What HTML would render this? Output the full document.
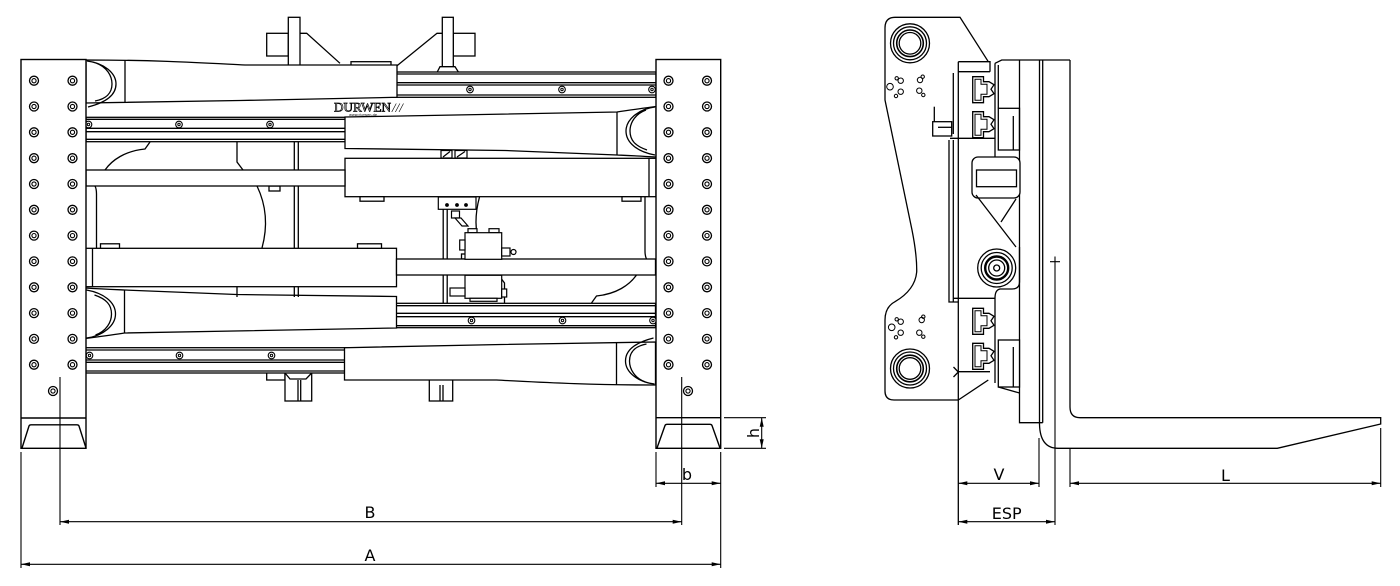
<!DOCTYPE html>
<html><head><meta charset="utf-8"><title>Drawing</title>
<style>html,body{margin:0;padding:0;background:#fff}svg{display:block}text{font-family:"DejaVu Sans","Liberation Sans",sans-serif}</style></head>
<body>
<svg width="1400" height="586" viewBox="0 0 1400 586">
<defs>
 <g id="ph"><circle r="4.5" fill="#fff" stroke="#000" stroke-width="1.3"/><circle r="2.1" fill="none" stroke="#000" stroke-width="1.1"/></g>
 <g id="col">
  <use href="#ph" y="80.7"/><use href="#ph" y="106.5"/><use href="#ph" y="132.3"/><use href="#ph" y="158.2"/>
  <use href="#ph" y="184"/><use href="#ph" y="209.8"/><use href="#ph" y="235.6"/><use href="#ph" y="261.4"/>
  <use href="#ph" y="287.3"/><use href="#ph" y="313.1"/><use href="#ph" y="338.9"/><use href="#ph" y="364.7"/>
 </g>
 <g id="rh"><circle r="3.3" fill="#fff" stroke="#000" stroke-width="1.1"/><circle r="1.2" fill="none" stroke="#000" stroke-width="1"/></g>
 <g id="rails" stroke="#000" stroke-width="1.3" fill="none">
  <rect x="86" y="72" width="570" height="25.3" fill="#fff"/>
  <path d="M86,74H656M86,82.7H656M86,85H656M86,95H656"/>
  <use href="#rh" x="470" y="89.5"/><use href="#rh" x="562" y="89.5"/><use href="#rh" x="652" y="89.5"/>
  <rect x="86" y="117.3" width="570" height="24.4" fill="#fff"/>
  <path d="M86,119.3H656M86,128.3H656M86,131.7H656M86,139.3H656"/>
  <use href="#rh" x="88.5" y="124.5"/><use href="#rh" x="179" y="124.5"/><use href="#rh" x="270" y="124.5"/>
 </g>
 <g id="arms" stroke="#000" stroke-width="1.3" fill="#fff">
  <path fill="none" d="M237,142V162L243,170"/>
  <path fill="none" d="M294.3,142V248M298.3,142V248"/>
  <path fill="none" d="M105,170C112,160 125,151 145,149L150,142"/>
  <path fill="none" d="M95,186Q96.5,189 96.5,194V248"/>
  <path fill="none" d="M257,186Q271,215 262,248"/>
  <rect x="269" y="186" width="11" height="5"/>
  <path d="M86,60C160,60 205,63 245,65H397V97.3L240,100.5L86,103Z"/>
  <path fill="none" d="M125,60.5V102.5M87,61C104,63 116,73 116,84C116,96 104,103 88,107M96,63C107,67 112,76 112,84C112,93 106,99 95,101"/>
  <path d="M345,117L617,112C630,110 645,108 656,106.5V157C640,156 628,155.5 617,155L505,150.5L345,148.5Z"/>
  <path fill="none" d="M617,112V155M655,107C638,109 626,120 626,131C626,143 638,152 655,155M646,110C635,114 630,123 630,131C630,140 635,146 647,150"/>
  <rect x="345" y="158.3" width="311" height="38.4"/>
  <path fill="none" d="M649,158.3V196.7"/>
  <rect x="360" y="196.7" width="24" height="4.5"/>
  <rect x="622" y="196.7" width="19" height="4.5"/>
  <rect x="86" y="170" width="259" height="16"/>
 </g>
</defs>

<!-- hooks & lugs (behind) -->
<g stroke="#000" stroke-width="1.3" fill="#fff">
 <rect x="266.7" y="33.3" width="21.6" height="22.7"/>
 <rect x="288.3" y="17.3" width="11.7" height="50"/>
 <path fill="none" d="M300,33.3H306.7L340,63.3"/>
 <rect x="351" y="61.7" width="40" height="5"/>
 <rect x="453.3" y="33.3" width="21.7" height="22.7"/>
 <rect x="442.3" y="17.3" width="11" height="49.4"/>
 <path d="M436.7,73L440,66.7H455L459,73Z"/>
 <path fill="none" d="M442.3,33.3H437L396.7,66"/>
 <rect x="266.7" y="368" width="18.3" height="12"/>
 <rect x="285" y="368" width="26.7" height="33"/>
 <path fill="none" d="M298,380V401M300.7,380V401M285,373L290,379H306L311.7,373"/>
 <rect x="429.3" y="376" width="23.4" height="25"/>
 <path fill="none" d="M440,385V401M443,385V401"/>
</g>

<use href="#rails"/>
<use href="#rails" transform="rotate(180 370.75 222.5)"/>
<use href="#arms"/>
<use href="#arms" transform="rotate(180 370.75 222.5)"/>

<g stroke="#000" stroke-width="1.3" fill="none">
 <path d="M294.3,286.7V297M298.3,286.7V297M237,287V297"/>
</g>

<!-- logo -->
<text x="334" y="111.5" font-size="12.5" fill="#fff" stroke="#000" stroke-width="0.7" textLength="57" lengthAdjust="spacingAndGlyphs" style="font-family:'Liberation Serif',serif">DURWEN</text>
<text x="392" y="112" font-size="13" font-style="italic" fill="#000" style="font-family:'Liberation Serif',serif">///</text>
<text x="349" y="116" font-size="3.5" fill="#000">www.durwen.de</text>

<!-- valve -->
<g stroke="#000" stroke-width="1.2" fill="#fff">
 <rect x="441" y="150.5" width="11" height="7.5"/>
 <rect x="455" y="150.5" width="12" height="7.5"/>
 <path fill="none" d="M443,157L450,151.5M457,157L465,151.5"/>
 <rect x="438.3" y="197" width="37.7" height="12.3"/>
 <circle cx="447" cy="205" r="1.3" fill="#000"/><circle cx="457" cy="205" r="1.3" fill="#000"/><circle cx="466" cy="205" r="1.3" fill="#000"/>
 <rect x="451.5" y="211" width="8" height="7"/>
 <path d="M455,218L462,226H468L461,218Z"/>
 <rect x="468" y="228.7" width="9" height="4"/>
 <rect x="489" y="228.7" width="10" height="4"/>
 <rect x="465" y="232.7" width="36.7" height="26.6"/>
 <rect x="459.7" y="240" width="5.3" height="10"/>
 <rect x="501.7" y="248" width="8.3" height="8"/>
 <circle cx="513.5" cy="252" r="2.5"/>
 <rect x="465" y="275.3" width="36.7" height="23"/>
 <rect x="450" y="288" width="15" height="8"/>
 <rect x="501.7" y="289" width="5" height="8"/>
 <rect x="470" y="298.3" width="27" height="3"/>
</g>

<!-- plates -->
<g stroke="#000" stroke-width="1.4" fill="#fff">
 <rect x="21" y="59.5" width="65" height="388.8"/>
 <path fill="none" d="M21,418H86M22,448L29,426Q29.5,424.8 31,424.8H77Q78.5,424.8 79,426L86,448"/>
 <rect x="656" y="59.5" width="64.7" height="388.8"/>
 <path fill="none" d="M656,417.7H720.7M657,448L665,425.5Q665.5,424.3 667,424.3H710Q711.5,424.3 712,425.5L720,448"/>
</g>
<use href="#col" x="34"/><use href="#col" x="72.5"/>
<use href="#col" x="668.5"/><use href="#col" x="707"/>
<use href="#ph" x="53" y="391"/><use href="#ph" x="688" y="391"/>

<!-- dimensions left -->
<g stroke="#000" stroke-width="1.1" fill="none">
 <path d="M60,377V525M681.7,377V525M21,452V568M720.7,452V568M656,452V487M60,521.7H681.7M21,564.3H720.7M656,483.3H720.7M724,417.7H766M724,448.3H766M761.7,418V448.3"/>
</g>
<g fill="#000" stroke="none">
 <polygon points="60,521.7 69,519.7 69,523.7"/><polygon points="681.7,521.7 672.7,519.7 672.7,523.7"/>
 <polygon points="21,564.3 30,562.3 30,566.3"/><polygon points="720.7,564.3 711.7,562.3 711.7,566.3"/>
 <polygon points="656,483.3 665,481.3 665,485.3"/><polygon points="720.7,483.3 711.7,481.3 711.7,485.3"/>
 <polygon points="761.7,417.7 759.7,426.7 763.7,426.7"/><polygon points="761.7,448.3 759.7,439.3 763.7,439.3"/>
 <polygon points="958.3,483.3 967.3,481.3 967.3,485.3"/><polygon points="1039,483.3 1030,481.3 1030,485.3"/>
 <polygon points="958.3,521.7 967.3,519.7 967.3,523.7"/><polygon points="1055,521.7 1046,519.7 1046,523.7"/>
 <polygon points="1070,483.3 1079,481.3 1079,485.3"/><polygon points="1380.7,483.3 1371.7,481.3 1371.7,485.3"/>
</g>
<g fill="#000" font-size="16" text-anchor="middle">
 <text x="370" y="518">B</text>
 <text x="370" y="561">A</text>
 <text x="687" y="480">b</text>
 <text transform="translate(759,433) rotate(-90)">h</text>
 <text x="999" y="480">V</text>
 <text x="1006.7" y="519">ESP</text>
 <text x="1225.5" y="481">L</text>
</g>

<!-- side view -->
<g stroke="#000" stroke-width="1.3" fill="none">
 <path fill="#fff" stroke="none" d="M895,17.3H960L988.3,61.7V380L958.3,400H894Q885,400 885,391V320Q885,307 895,301.7Q915,290 916.7,272Q917,255 912,230L885,100V28Q885,17.3 895,17.3Z"/>
 <path d="M988.3,61.7L960,17.3H895Q885,17.3 885,28V100L912,230Q917,255 916.7,272Q915,290 895,301.7Q885,307 885,320V391Q885,400 894,400H958.3L988.3,380"/>
 <circle cx="910" cy="43.3" r="19.5"/><circle cx="910" cy="43.3" r="16.5"/><circle cx="910" cy="43.3" r="13.3" stroke-width="1.6"/><circle cx="910" cy="43.3" r="10.8"/>
 <circle cx="910" cy="368.5" r="19.5"/><circle cx="910" cy="368.5" r="16.5"/><circle cx="910" cy="368.5" r="13.3" stroke-width="1.6"/><circle cx="910" cy="368.5" r="10.8"/>
 <g stroke-width="1">
  <circle cx="890" cy="86.7" r="3.3"/><circle cx="896.7" cy="78.3" r="1.7"/><circle cx="900.7" cy="80.7" r="2.7"/><circle cx="900.7" cy="91.7" r="2.7"/><circle cx="896" cy="96" r="1.7"/>
  <circle cx="920" cy="80" r="2.7"/><circle cx="922.7" cy="76.7" r="1.7"/><circle cx="919.3" cy="90.7" r="2.7"/><circle cx="923.3" cy="95" r="1.7"/>
  <circle cx="891.7" cy="327.3" r="3.3"/><circle cx="896.7" cy="319.3" r="1.7"/><circle cx="900.7" cy="321.7" r="2.7"/><circle cx="900.7" cy="332.7" r="2.7"/><circle cx="896" cy="337.3" r="1.7"/>
  <circle cx="921.7" cy="320" r="2.7"/><circle cx="923.3" cy="316.7" r="1.7"/><circle cx="919.3" cy="332.7" r="2.7"/><circle cx="923.3" cy="336.7" r="1.7"/>
 </g>
 <path d="M934.3,106.7V121.7"/>
 <rect x="932.7" y="121.7" width="19" height="14.3" fill="#fff"/>
 <path d="M938,127.3H951.7"/>
 <path d="M958.3,61.7V525"/>
 <path d="M958.3,61.7H990V71.7M958.3,71.7H990"/>
 <path d="M953.3,73V134M950,138.3H995"/>
 <path d="M949,140V302H958.3M953.3,140V302"/>
 <path d="M953.3,298.3H995"/>
 <path d="M958.3,371.7H990M953.5,367L958.3,372L953.5,377"/>
 <path d="M995,63.3L1001.7,60H1070"/>
 <path d="M995,63.3V157M995,298V383"/>
 <path d="M998.3,65V108.3"/>
 <rect x="998.3" y="108.3" width="21.2" height="41.7" fill="#fff"/>
 <path d="M1013.3,116V150"/>
 <path d="M1019.5,60V422.7H1042.7"/>
 <rect x="972" y="157" width="48" height="41" rx="6" fill="#fff"/>
 <rect x="976.5" y="170" width="40" height="16.7"/>
 <path d="M976,195L1016,247M1016,199L1001,222"/>
 <path d="M1019.5,247V282Q1019.5,289 1012,289H1000Q995,290 995,298"/>
 <circle cx="996.7" cy="268" r="19" fill="#fff"/><circle cx="996.7" cy="268" r="15.5"/><circle cx="996.7" cy="268" r="11.5" stroke-width="2.4"/><circle cx="996.7" cy="268" r="8"/><circle cx="996.7" cy="268" r="3"/>
 <rect x="998.3" y="340" width="21.2" height="47" fill="#fff"/>
 <path d="M1013.3,347V387M998.3,387L1019.5,393"/>
 <g fill="#fff">
  <path d="M972.7,76.7H983.5V81.7H989L994,84.7L991,89.2L994,93.7L989,96.7H983.5V102.7H972.7Z"/>
  <path d="M972.7,111.7H983.5V116.7H989L994,119.7L991,124.2L994,128.7L989,131.7H983.5V137.7H972.7Z"/>
  <path d="M972.7,308.3H983.5V313.3H989L994,316.3L991,320.8L994,325.3L989,328.3H983.5V334.3H972.7Z"/>
  <path d="M972.7,343.3H983.5V348.3H989L994,351.3L991,355.8L994,360.3L989,363.3H983.5V369.3H972.7Z"/>
 </g>
 <g stroke-width="1">
  <path d="M975,79.2H981V84.2H987V94.2H981V100.2H975Z"/>
  <path d="M975,114.2H981V119.2H987V129.2H981V135.2H975Z"/>
  <path d="M975,310.8H981V315.8H987V325.8H981V331.8H975Z"/>
  <path d="M975,345.8H981V350.8H987V360.8H981V366.8H975Z"/>
 </g>
 <path d="M1039.5,60V424Q1040,448.3 1058,448.3H1277.3L1380.7,424V417.7H1080Q1070,417.7 1070,407V60"/>
 <path d="M1042.7,60V422.7"/>
 <path stroke-width="1.1" d="M1055,265V525M1050,261.7H1060M1055,256.5V266.5"/>
 <path stroke-width="1.1" d="M1039,438V487M1070,448.3V487M1380.7,428V487M958.3,483.3H1039M958.3,521.7H1055M1070,483.3H1380.7"/>
</g>
</svg>
</body></html>
